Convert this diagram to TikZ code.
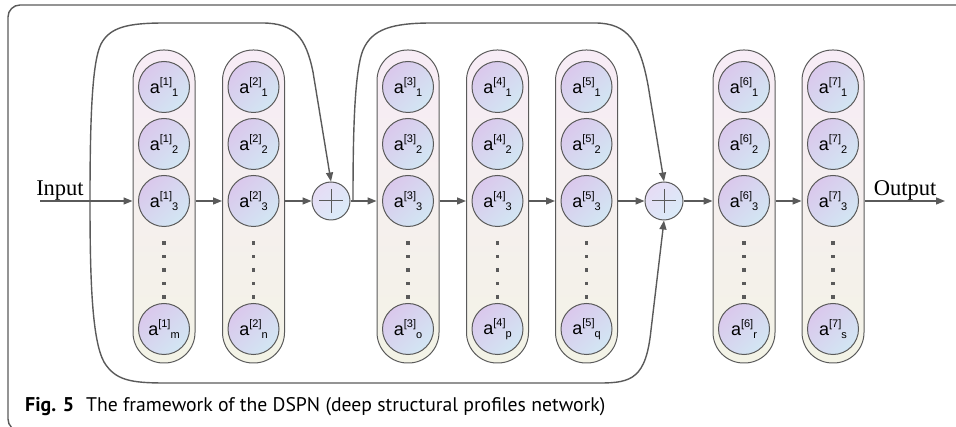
\documentclass[tikz,border=0pt]{standalone}
\usepackage{fontspec}
\setmainfont{Liberation Serif}
\newfontfamily\lfont{Liberation Sans}
\newfontfamily\capfont{PT Sans}
\usetikzlibrary{arrows.meta}
\definecolor{ln}{HTML}{5A5A5A}
\definecolor{pilltop}{HTML}{F7ECF6}
\definecolor{pillbot}{HTML}{F3F3E6}
\definecolor{nupurple}{HTML}{DAC8EC}
\definecolor{nublue}{HTML}{D2E6F3}
\definecolor{pluspurple}{HTML}{E6DCF5}
\definecolor{plusblue}{HTML}{DAEBF8}
\newcommand\alab[2]{a\raisebox{7.5pt}{\fontsize{11}{11}\selectfont[#1]}\raisebox{-3pt}{\fontsize{11}{11}\selectfont#2}}
\tikzset{
  pill/.style={draw=ln, line width=1pt, rounded corners=30.5pt, minimum width=62pt, minimum height=313pt, inner sep=0pt, top color=pilltop, bottom color=pillbot},
  neuron/.style={circle, draw=ln, line width=1pt, minimum size=51pt, inner sep=0pt, top color=nupurple, bottom color=nublue, shading angle=45, font=\lfont\fontsize{18}{18}\selectfont},
  plusnode/.style={circle, draw=ln, line width=1pt, minimum size=38pt, inner sep=0pt, top color=pluspurple, bottom color=plusblue, shading angle=45},
  arr/.style={draw=ln, line width=1.4pt, -{Triangle[length=9pt,width=7pt]}},
  frame/.style={draw=ln, line width=1.4pt, rounded corners=12pt},
  iolab/.style={font=\fontsize{22.5}{22.5}\selectfont, inner sep=0pt, anchor=base},
  dotmark/.style={fill=ln}
}
\begin{document}
\begin{tikzpicture}[x=1pt,y=-1pt]
\useasboundingbox (0,0) rectangle (956,427);
\draw[frame] (960,5) -- (8,5) -- (8,431) -- (60,431);

\foreach \k/\cx/\last in {1/164/m, 2/253.5/n, 3/408/o, 4/497.5/p, 5/586.5/q, 6/744/r, 7/833/s}{
  \node[pill] (L\k) at (\cx,206.5) {};
  \node[neuron] (n\k-1) at (\cx,87) {\alab{\k}{1}};
  \node[neuron] (n\k-2) at (\cx,144) {\alab{\k}{2}};
  \node[neuron] (n\k-3) at (\cx,201) {\alab{\k}{3}};
  \node[neuron] (n\k-4) at (\cx,329) {\alab{\k}{\last}};
  \foreach \yy in {243,256.5,270,283.5,297}{
    \fill[dotmark] (\cx-1.6,\yy-1.6) rectangle (\cx+1.6,\yy+1.6);
  }
}

\node[plusnode] (p1) at (331,201) {};
\node[plusnode] (p2) at (664,201) {};
\foreach \p in {p1,p2}{
  \draw[ln, line width=1pt] (\p.center) ++(-12,0) -- ++(24,0);
  \draw[ln, line width=1pt] (\p.center) ++(0,-12) -- ++(0,24);
}

\node[iolab] (inlab) at (60,196) {Input};
\node[iolab] (outlab) at (905,196) {Output};

\coordinate (inS) at (40,201);
\coordinate (outE) at (945,201);
\coordinate (j1) at (90,201);
\coordinate (j2) at (353,201);

\draw[arr] (inS) -- (n1-3 -| L1.west);
\draw[arr] (n1-3 -| L1.east) -- (n2-3 -| L2.west);
\draw[arr] (n2-3 -| L2.east) -- (p1.west);
\draw[arr] (p1.east) -- (n3-3 -| L3.west);
\draw[arr] (n3-3 -| L3.east) -- (n4-3 -| L4.west);
\draw[arr] (n4-3 -| L4.east) -- (n5-3 -| L5.west);
\draw[arr] (n5-3 -| L5.east) -- (p2.west);
\draw[arr] (p2.east) -- (n6-3 -| L6.west);
\draw[arr] (n6-3 -| L6.east) -- (n7-3 -| L7.west);
\draw[arr] (n7-3 -| L7.east) -- (outE);

% skip connections
\draw[arr] (j1) .. controls (90,120) and (92,62) .. (101,44) .. controls (110,27) and (128,23) .. (165,23) -- (262,23) .. controls (295,23) and (306,38) .. (313,72) -- (p1.north);
\draw[arr] (j2) .. controls (353,140) and (354,72) .. (363,50) .. controls (372,29) and (392,23) .. (432,23) -- (595,23) .. controls (628,23) and (640,42) .. (648,85) -- (p2.north);
\draw[arr] (j1) .. controls (90,280) and (92,340) .. (104,362) .. controls (115,380) and (130,383) .. (165,383) -- (600,383) .. controls (632,383) and (646,378) .. (651,330) -- (p2.south);

\node[anchor=base west, inner sep=0pt, font=\capfont\bfseries] (fig) at (25,412) {\resizebox{49pt}{!}{Fig. 5}};
\node[anchor=base west, inner sep=0pt, font=\capfont] (cap) at (86,412) {\resizebox{519pt}{!}{The framework of the DSPN (deep structural profiles network)}};
\end{tikzpicture}
\end{document}
